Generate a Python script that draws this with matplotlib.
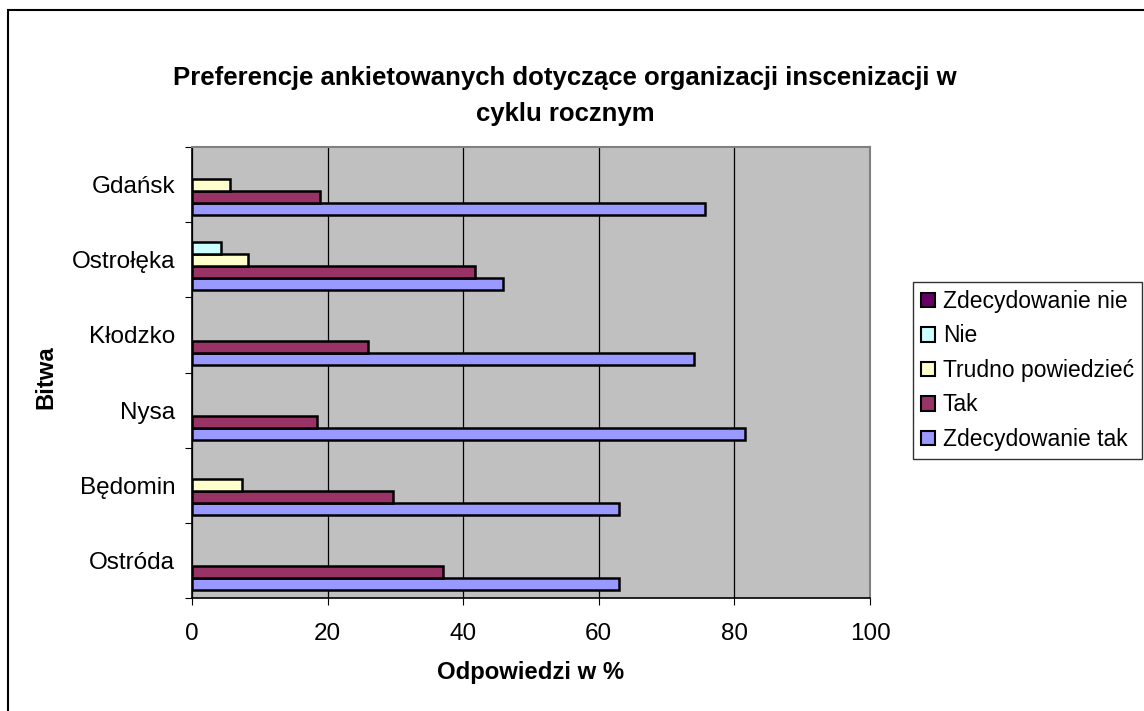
import matplotlib.pyplot as plt
import numpy as np
from matplotlib.patches import Rectangle, Patch

plt.rcParams['font.family'] = ['Liberation Sans', 'DejaVu Sans']

# data (bottom -> top as drawn)
battles = ['Ostróda', 'Będomin', 'Nysa', 'Kłodzko', 'Ostrołęka', 'Gdańsk']
zdecydowanie_tak = [63.0, 63.0, 81.5, 74.0, 45.8, 75.6]
tak = [37.0, 29.6, 18.5, 26.0, 41.7, 18.9]
trudno = [0, 7.4, 0, 0, 8.3, 5.6]
nie = [0, 0, 0, 0, 4.3, 0]
zdecydowanie_nie = [0, 0, 0, 0, 0, 0]

series = [
    ('Zdecydowanie tak', zdecydowanie_tak, '#9999FF'),
    ('Tak', tak, '#993366'),
    ('Trudno powiedzieć', trudno, '#FFFFCC'),
    ('Nie', nie, '#CCFFFF'),
    ('Zdecydowanie nie', zdecydowanie_nie, '#660066'),
]

fig = plt.figure(figsize=(11.44, 7.11), dpi=100)
W, H = 1144, 711

# outer chart border
fig.patches.append(Rectangle((8 / W, -0.1), 1.2, 1.1 - 10 / H, transform=fig.transFigure,
                             fill=False, edgecolor='black', linewidth=1.5, zorder=0))

ax = fig.add_axes([192 / W, (H - 598) / H, (870 - 192) / W, (598 - 147) / H])
ax.set_facecolor('#C0C0C0')

y = np.arange(len(battles))
h = 0.16
for i, (name, vals, col) in enumerate(series):
    v = np.array(vals, dtype=float)
    mask = v > 0
    ax.barh(y[mask] + (i - 2) * h, v[mask], height=h, color=col,
            edgecolor='black', linewidth=1.8, zorder=3)

ax.set_xlim(0, 100)
ax.set_ylim(-0.5, len(battles) - 0.5)
ax.set_xticks(np.arange(0, 101, 20))
ax.tick_params(axis='x', labelsize=17.5, length=5, direction='out', pad=13, color='black')
ax.grid(axis='x', color='black', linewidth=0.9, zorder=1)

# category ticks at band boundaries, labels at centres
ax.set_yticks(np.arange(-0.5, len(battles), 1.0))
ax.set_yticklabels([])
ax.set_yticks(y, minor=True)
ax.set_yticklabels(battles, minor=True, fontsize=17.5)
ax.tick_params(axis='y', which='major', length=5, color='black')
ax.tick_params(axis='y', which='minor', length=0, pad=12)

for s in ['top', 'right']:
    ax.spines[s].set_color('#808080')
    ax.spines[s].set_linewidth(1.5)
for s in ['left', 'bottom']:
    ax.spines[s].set_color('black')
    ax.spines[s].set_linewidth(1.2)

ax.set_xlabel('Odpowiedzi w %', fontsize=17.2, fontweight='bold', va='center')
ax.xaxis.set_label_coords(0.5, (598 - 672) / 451)
ax.set_ylabel('Bitwa', fontsize=17.2, fontweight='bold', va='center')
ax.yaxis.set_label_coords((46 - 192) / 678, 0.49)

fig.text(565 / W, 1 - 96 / H, 'Preferencje ankietowanych dotyczące organizacji inscenizacji w\ncyklu rocznym',
         ha='center', va='center', fontsize=18.5, fontweight='bold', linespacing=1.6)

handles = [Patch(facecolor=col, edgecolor='black', linewidth=1.5, label=name)
           for name, vals, col in series[::-1]]
leg = fig.legend(handles=handles, loc='upper left', bbox_to_anchor=(913 / W, 1 - 282 / H),
                 fontsize=16.5, frameon=True, fancybox=False, edgecolor='black',
                 handlelength=0.6, handleheight=0.6, handletextpad=0.35,
                 labelspacing=0.5, borderpad=0.35, borderaxespad=0)
leg.get_frame().set_linewidth(1.0)

fig.savefig('out.png', dpi=100)
